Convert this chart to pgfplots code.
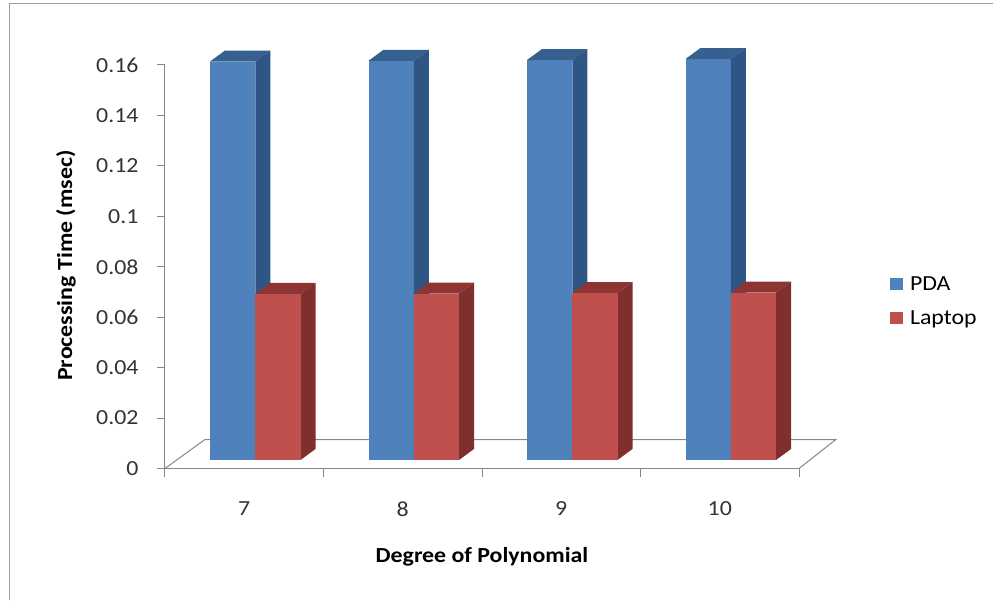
\documentclass[border=0pt]{standalone}
\usepackage{fontspec}
\setmainfont[FakeStretch=1.11]{Carlito}
\usepackage{pgfplots}
\pgfplotsset{compat=1.18}

\definecolor{pdafront}{HTML}{4F81BD}
\definecolor{pdaside}{HTML}{2F5585}
\definecolor{pdatop}{HTML}{36608F}
\definecolor{lapfront}{HTML}{C0504D}
\definecolor{lapside}{HTML}{7F2F2D}
\definecolor{laptop}{HTML}{8E3533}
\definecolor{axisgray}{HTML}{868686}

% one unit of the picture is one pixel of the reference
\newcommand{\basey}{0.00337}
\newcommand{\dx}{0.0946}
\newcommand{\dy}{0.00437}

% #1 left x, #2 right x, #3 value, #4 colour stem
\newcommand{\faces}[4]{%
  \addplot[forget plot,fill=#4top,draw=none] coordinates {
    (#1,\basey+#3) (#1+\dx,\basey+#3+\dy) (#2+\dx,\basey+#3+\dy) (#2,\basey+#3)} -- cycle;
  \addplot[forget plot,fill=#4side,draw=none] coordinates {
    (#2,\basey) (#2+\dx,\basey+\dy) (#2+\dx,\basey+#3+\dy) (#2,\basey+#3)} -- cycle;
}
% #1 extra plot options
\newcommand{\frontface}[5][forget plot]{%
  \addplot[#1,fill=#5front,draw=none] coordinates {
    (#2,\basey) (#3,\basey) (#3,\basey+#4) (#2,\basey+#4)} -- cycle;
}

\begin{document}
\begin{tikzpicture}[x=1pt,y=1pt]
\path[use as bounding box] (-165,-131.5) rectangle (828,468.5);
\draw[color=black!38,line width=1.6pt] (-155.5,-131.5) -- (-155.5,465) -- (828,465);
\begin{axis}[
  scale only axis,
  width=634pt,
  height=403.5pt,
  xmin=0, xmax=4,
  ymin=0, ymax=0.16,
  clip=false,
  axis x line*=bottom,
  axis y line*=left,
  axis line style={-,color=axisgray,line width=1pt},
  xtick={0,1,2,3,4},
  x tick label as interval,
  xticklabels={7,8,9,10},
  ytick={0,0.02,0.04,0.06,0.08,0.1,0.12,0.14,0.16},
  yticklabels={0,0.02,0.04,0.06,0.08,0.1,0.12,0.14,0.16},
  tick align=outside,
  major tick length=8pt,
  tick style={color=axisgray,line width=1pt},
  tick label style={font=\fontsize{21.5}{24}\selectfont,text=black!80},
  xticklabel style={yshift=-22pt},
  yticklabel style={xshift=-15pt},
  xlabel={Degree of Polynomial},
  ylabel={Processing Time (msec)},
  label style={font=\fontsize{21.5}{24}\selectfont\bfseries},
  xlabel style={at={(axis description cs:0.5,0)},anchor=center,yshift=-88.5pt},
  ylabel style={at={(axis description cs:-0.156,0.503)},anchor=center,rotate=0},
  legend cell align=left,
  legend style={draw=none,fill=none,at={(725pt,192pt)},anchor=north west,
    font=\fontsize{21.5}{24}\selectfont,inner sep=0pt,outer sep=0pt,
    row sep=19pt,nodes={inner sep=0pt},
    /tikz/column 1/.style={column sep=7pt}},
  legend image code/.code={\fill[#1] (0pt,-6pt) rectangle (13pt,6.5pt);},
]
% floor of the 3-D box
\addplot[forget plot,color=axisgray,line width=1pt] coordinates {
  (0,0) (0.252,0.0115) (4.233,0.0115) (4,0)};

% degree 7
\frontface[]{0.284}{0.57}{0.158}{pda}
\faces{0.284}{0.57}{0.158}{pda}
\faces{0.57}{0.855}{0.0659}{lap}
\frontface[]{0.57}{0.855}{0.0659}{lap}
% degree 8
\frontface{1.284}{1.57}{0.1583}{pda}
\faces{1.284}{1.57}{0.1583}{pda}
\faces{1.57}{1.855}{0.0660}{lap}
\frontface{1.57}{1.855}{0.0660}{lap}
% degree 9
\frontface{2.284}{2.57}{0.1586}{pda}
\faces{2.284}{2.57}{0.1586}{pda}
\faces{2.57}{2.855}{0.0662}{lap}
\frontface{2.57}{2.855}{0.0662}{lap}
% degree 10
\frontface{3.284}{3.57}{0.1590}{pda}
\faces{3.284}{3.57}{0.1590}{pda}
\faces{3.57}{3.855}{0.0664}{lap}
\frontface{3.57}{3.855}{0.0664}{lap}

\legend{PDA,Laptop}
\end{axis}
\end{tikzpicture}
\end{document}
